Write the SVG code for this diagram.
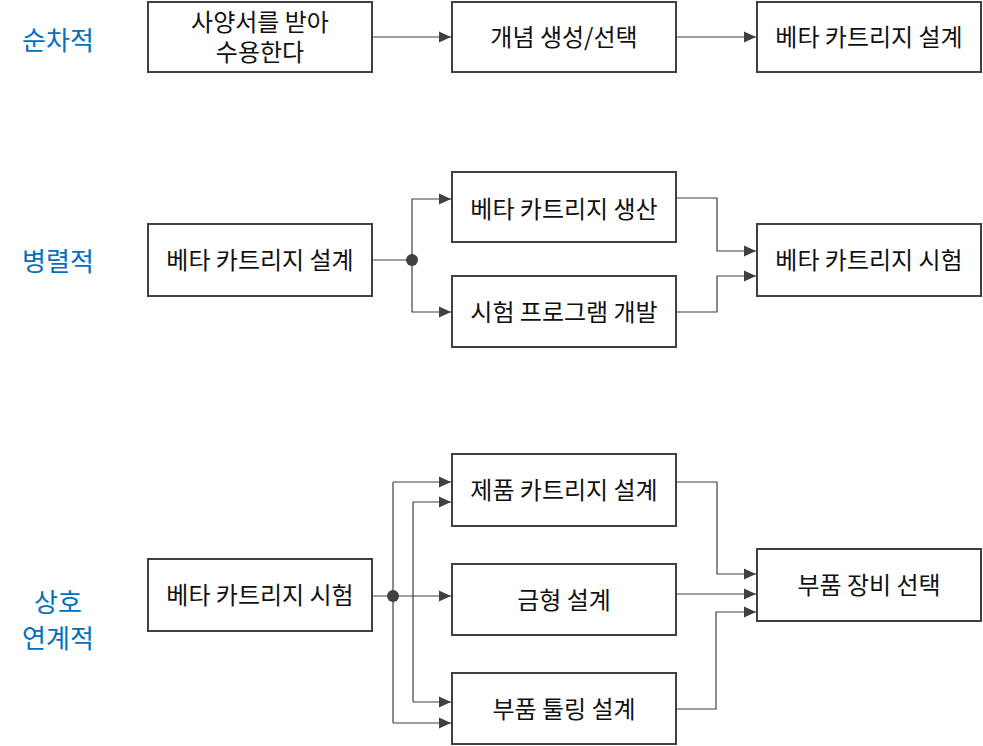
<svg xmlns="http://www.w3.org/2000/svg" width="983" height="746" viewBox="0 0 983 746">
<style>
.box{fill:#fff;stroke:#404040;stroke-width:2}
.t{font-family:"Noto Sans CJK KR","Malgun Gothic",sans-serif;font-size:24px;fill:#111;text-anchor:middle}
.lbl{font-family:"Noto Sans CJK KR","Malgun Gothic",sans-serif;font-size:26px;fill:#0070c0;text-anchor:middle}
.c{fill:none;stroke:#404040;stroke-width:1.2}
.a{marker-end:url(#arr)}
</style>
<defs>
<marker id="arr" markerUnits="userSpaceOnUse" markerWidth="12" markerHeight="12" viewBox="0 0 12 12" refX="12" refY="6" orient="auto">
<path d="M0,0.5 L12,6 L0,11.5 z" fill="#404040"/>
</marker>
</defs>
<rect width="983" height="746" fill="#fff"/>
<g id="labels">
<text class="lbl" x="58" y="50">순차적</text>
<text class="lbl" x="58" y="271">병렬적</text>
<text class="lbl" x="58" y="612">상호</text>
<text class="lbl" x="58" y="648">연계적</text>
</g>
<g id="connectors">
<line class="c a" x1="373" y1="37" x2="451" y2="37"/>
<line class="c a" x1="677" y1="37" x2="756" y2="37"/>
<line class="c" x1="373" y1="260" x2="412" y2="260"/>
<polyline class="c a" points="412,260 412,199 451,199"/>
<polyline class="c a" points="412,260 412,312 451,312"/>
<circle cx="412" cy="260" r="6" fill="#404040"/>
<polyline class="c a" points="677,198 717,198 717,251 756,251"/>
<polyline class="c a" points="677,312 717,312 717,276 756,276"/>
<line class="c a" x1="373" y1="596" x2="451" y2="596"/>
<line class="c" x1="393" y1="482" x2="393" y2="723"/>
<line class="c a" x1="393" y1="482" x2="451" y2="482"/>
<line class="c a" x1="393" y1="723" x2="451" y2="723"/>
<line class="c" x1="413" y1="502" x2="413" y2="702"/>
<line class="c a" x1="413" y1="502" x2="451" y2="502"/>
<line class="c a" x1="413" y1="702" x2="451" y2="702"/>
<circle cx="393" cy="596" r="6" fill="#404040"/>
<polyline class="c a" points="677,482 717,482 717,574 756,574"/>
<line class="c a" x1="677" y1="594" x2="756" y2="594"/>
<polyline class="c a" points="677,709 716,709 716,612 756,612"/>
</g>
<g id="n1"><rect class="box" x="148" y="2" width="224" height="70"/><text class="t" x="260" y="31">사양서를 받아</text><text class="t" x="260" y="61">수용한다</text></g>
<g id="n2"><rect class="box" x="452" y="2" width="224" height="70"/><text class="t" x="564" y="46">개념 생성/선택</text></g>
<g id="n3"><rect class="box" x="757" y="2" width="224" height="70"/><text class="t" x="869" y="46">베타 카트리지 설계</text></g>
<g id="n4"><rect class="box" x="148" y="224" width="224" height="72"/><text class="t" x="260" y="269">베타 카트리지 설계</text></g>
<g id="n5"><rect class="box" x="452" y="172" width="224" height="70"/><text class="t" x="564" y="218">베타 카트리지 생산</text></g>
<g id="n6"><rect class="box" x="452" y="276" width="224" height="71"/><text class="t" x="564" y="321">시험 프로그램 개발</text></g>
<g id="n7"><rect class="box" x="757" y="224" width="224" height="72"/><text class="t" x="869" y="269">베타 카트리지 시험</text></g>
<g id="n8"><rect class="box" x="148" y="559" width="224" height="72"/><text class="t" x="260" y="604">베타 카트리지 시험</text></g>
<g id="n9"><rect class="box" x="452" y="454" width="224" height="72"/><text class="t" x="564" y="499">제품 카트리지 설계</text></g>
<g id="n10"><rect class="box" x="452" y="564" width="224" height="71"/><text class="t" x="564" y="609">금형 설계</text></g>
<g id="n11"><rect class="box" x="452" y="673" width="224" height="71"/><text class="t" x="564" y="718">부품 툴링 설계</text></g>
<g id="n12"><rect class="box" x="757" y="549" width="224" height="72"/><text class="t" x="869" y="594">부품 장비 선택</text></g>
</svg>
